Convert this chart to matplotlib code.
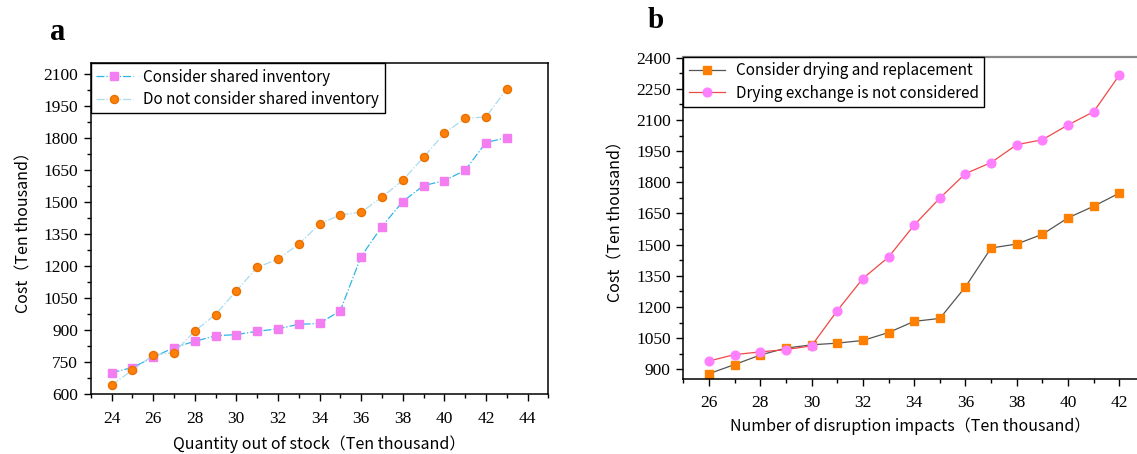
import matplotlib
matplotlib.use("Agg")
import matplotlib.pyplot as plt
from matplotlib.ticker import MultipleLocator

# panel a: shortage quantity vs cost
stock_x = list(range(24, 44))
shared_cost = [700, 724, 772, 818, 847, 873, 879, 894, 906, 927,
               931, 991, 1245, 1386, 1503, 1578, 1601, 1650, 1780, 1803]
no_shared_cost = [642, 711, 783, 794, 895, 973, 1084, 1194, 1233, 1303,
                  1398, 1441, 1453, 1523, 1603, 1711, 1823, 1894, 1900, 2030]

# panel b: disruption impacts vs cost
impact_x = list(range(26, 43))
drying_cost = [879, 923, 969, 1002, 1018, 1026, 1039, 1077, 1131, 1145,
               1297, 1484, 1503, 1550, 1629, 1685, 1748]
no_drying_cost = [940, 971, 984, 995, 1013, 1182, 1337, 1440, 1594, 1724,
                  1842, 1895, 1981, 2005, 2076, 2140, 2316]

SANS = ["Noto Sans CJK SC", "DejaVu Sans"]
SERIF = "Liberation Serif"
W, H = 1137, 454

# tick numbers are serif, all words are set in the CJK sans explicitly
plt.rcParams["font.family"] = [SERIF, "DejaVu Serif"]

fig = plt.figure(figsize=(W / 100, H / 100), dpi=100)
# panel b runs past the right edge of the figure, as in the source
ax_a = fig.add_axes([90.7 / W, 1 - 394 / H, 457.6 / W, 330.7 / H])
ax_b = fig.add_axes([683.3 / W, 1 - 378.7 / H, 484.8 / W, 321.7 / H])


def style_axis(ax):
    ax.tick_params(which="both", direction="out", width=1.0)
    ax.tick_params(which="major", length=5, labelsize=12.5, pad=4)
    ax.tick_params(which="minor", length=3)
    ax.tick_params(axis="x", pad=7)
    for sp in ax.spines.values():
        sp.set_linewidth(1.1)


def style_legend(ax):
    leg = ax.legend(loc="upper left", frameon=True, fancybox=False,
                    edgecolor="black", borderaxespad=0,
                    prop={"family": SANS, "size": 11},
                    handlelength=2.4, borderpad=0.35, labelspacing=0.35,
                    handletextpad=0.7)
    leg.get_frame().set_linewidth(1.0)
    leg.get_frame().set_alpha(1)


# ---- panel a
ax_a.plot(stock_x, shared_cost, color="#2fb5e8", lw=0.9, ls="-.",
          marker="s", ms=5.2, mfc="#f27ef2", mec="#f27ef2",
          label="Consider shared inventory")
ax_a.plot(stock_x, no_shared_cost, color="#a9dcee", lw=0.9, ls="-.",
          marker="o", ms=5.8, mfc="#ff8008", mec="#e87000",
          label="Do not consider shared inventory")
ax_a.set_xlim(23, 45)
ax_a.set_ylim(600, 2152)
ax_a.xaxis.set_major_locator(MultipleLocator(2))
ax_a.xaxis.set_minor_locator(MultipleLocator(1))
ax_a.yaxis.set_major_locator(MultipleLocator(150))
ax_a.yaxis.set_minor_locator(MultipleLocator(75))
style_axis(ax_a)
ax_a.set_xlabel("Quantity out of stock（Ten thousand）", family=SANS,
                fontsize=11.5, labelpad=6)
ax_a.set_ylabel("Cost（Ten thousand）", family=SANS, fontsize=11.5,
                labelpad=8)
style_legend(ax_a)

# ---- panel b
ax_b.plot(impact_x, drying_cost, color="#555555", lw=0.9,
          marker="s", ms=5.8, mfc="#ff8000", mec="#ff8000",
          label="Consider drying and replacement")
ax_b.plot(impact_x, no_drying_cost, color="#f04848", lw=0.9,
          marker="o", ms=6.3, mfc="#ff80ff", mec="#ff80ff",
          label="Drying exchange is not considered")
ax_b.set_xlim(25, 43.9)
ax_b.set_ylim(855, 2403)
ax_b.xaxis.set_major_locator(MultipleLocator(2))
ax_b.xaxis.set_minor_locator(MultipleLocator(1))
ax_b.yaxis.set_major_locator(MultipleLocator(150))
ax_b.yaxis.set_minor_locator(MultipleLocator(75))
style_axis(ax_b)
ax_b.spines["right"].set_visible(False)
ax_b.spines["top"].set_color("#888888")
ax_b.spines["top"].set_linewidth(1.6)
ax_b.set_xlabel("Number of disruption impacts（Ten thousand）", family=SANS,
                fontsize=11.5, labelpad=6)
ax_b.xaxis.set_label_coords((910 - 683.3) / 484.8, -0.12)
ax_b.set_ylabel("Cost（Ten thousand）", family=SANS, fontsize=11.5,
                labelpad=8)
style_legend(ax_b)

fig.text(58 / W, 1 - 40 / H, "a", weight="bold",
         fontsize=22, ha="center", va="baseline")
fig.text(656 / W, 1 - 28 / H, "b", weight="bold",
         fontsize=21, ha="center", va="baseline")

fig.savefig("out.png", dpi=100)
